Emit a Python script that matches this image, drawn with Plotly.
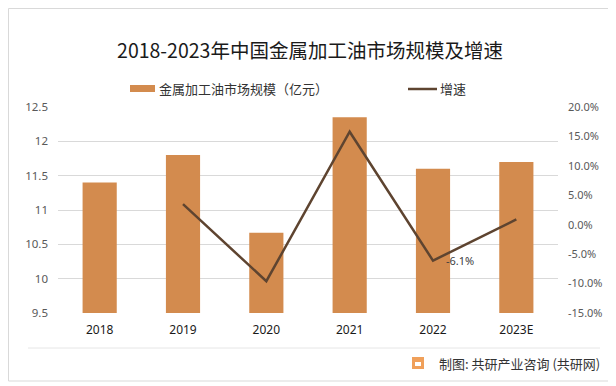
import plotly.graph_objects as go

years = ["2018", "2019", "2020", "2021", "2022", "2023E"]
market_size = [11.4, 11.8, 10.67, 12.35, 11.6, 11.7]
growth = [None, 3.5, -9.6, 15.8, -6.1, 0.9]
label_year = "2022"
label_value = -6.1
left_ticks = [9.5, 10, 10.5, 11, 11.5, 12, 12.5]
left_ticktext = ["9.5", "10", "10.5", "11", "11.5", "12", "12.5"]
right_ticks = [-15, -10, -5, 0, 5, 10, 15, 20]
right_ticktext = ["-15.0%", "-10.0%", "-5.0%", "0.0%", "5.0%", "10.0%", "15.0%", "20.0%"]
bar_name = "金属加工油市场规模（亿元）"
line_name = "增速"

font_cjk = "Noto Sans CJK SC"
font_num = "Noto Sans, Noto Sans CJK SC"
bar_color = "#D38B4E"
line_color = "#5E4430"

# page body margin offset (8px) compensation; coordinates below are in screen px
O = 8
W, H = 616 - O, 386 - O
L, R, T, B = 58, 558, 107, 313
PW, PH = R - L, B - T


def px(x):
    return (x - L) / PW


def py(y):
    return (B - y) / PH


fig = go.Figure()
fig.add_trace(go.Bar(
    x=years, y=market_size, name=bar_name,
    marker=dict(color=bar_color, line=dict(width=0)),
    width=0.41, yaxis="y", hoverinfo="x+y", showlegend=False,
))
fig.add_trace(go.Scatter(
    x=years, y=growth, name=line_name, yaxis="y2", mode="lines",
    line=dict(color=line_color, width=2.5), showlegend=False,
))

fig.update_layout(
    width=W, height=H,
    margin=dict(l=L - O, r=W - (R - O), t=T - O, b=H - (B - O), autoexpand=False),
    paper_bgcolor="white", plot_bgcolor="white",
    title=dict(text="2018-2023年中国金属加工油市场规模及增速", x=(310 - O) / W, xanchor="center",
               y=1 - (51 - O) / H, yanchor="middle",
               font=dict(family=font_cjk, size=19.5, color="#1a1a1a")),
    showlegend=False,
    xaxis=dict(type="category", range=[-0.5, len(years) - 0.5], showgrid=False,
               showline=False, ticks="", ticklabelstandoff=8,
               tickfont=dict(family=font_num, size=12, color="#1a1a1a")),
    yaxis=dict(range=[9.5, 12.5], tickvals=left_ticks, ticktext=left_ticktext,
               showgrid=True, gridcolor="#D9D9D9", gridwidth=1, zeroline=False,
               showline=False, ticks="", ticklabelstandoff=9,
               tickfont=dict(family=font_num, size=11.5, color="#595959")),
    yaxis2=dict(range=[-15, 20], tickvals=right_ticks, ticktext=right_ticktext,
                overlaying="y", side="right", showgrid=False, zeroline=False,
                showline=False, ticks="", ticklabelstandoff=9,
                tickfont=dict(family=font_num, size=11, color="#595959")),
    shapes=[
        dict(type="rect", xref="paper", yref="paper",
             x0=px(O + 0.5), x1=px(612), y0=py(381), y1=py(O + 0.5),
             line=dict(color="#D9D9D9", width=1), fillcolor="rgba(0,0,0,0)", layer="below"),
        dict(type="line", xref="paper", yref="paper",
             x0=px(28), x1=px(600), y0=py(348), y1=py(348),
             line=dict(color="#E6E6E6", width=1)),
        # legend swatches
        dict(type="rect", xref="paper", yref="paper",
             x0=px(130), x1=px(155), y0=py(92), y1=py(85),
             line=dict(width=0), fillcolor=bar_color),
        dict(type="line", xref="paper", yref="paper",
             x0=px(408), x1=px(437), y0=py(89), y1=py(89),
             line=dict(color=line_color, width=2.5)),
        # footer logo
        dict(type="rect", xref="paper", yref="paper",
             x0=px(412), x1=px(424), y0=py(369), y1=py(357),
             line=dict(width=0), fillcolor="#F0A05A"),
        dict(type="rect", xref="paper", yref="paper",
             x0=px(415), x1=px(421), y0=py(366), y1=py(362),
             line=dict(width=0), fillcolor="white"),
    ],
    annotations=[
        dict(text=bar_name, xref="paper", yref="paper", x=px(157), y=py(88.5),
             xanchor="left", yanchor="middle", showarrow=False,
             font=dict(family=font_cjk, size=13, color="#333333")),
        dict(text=line_name, xref="paper", yref="paper", x=px(438), y=py(88.5),
             xanchor="left", yanchor="middle", showarrow=False,
             font=dict(family=font_cjk, size=13, color="#333333")),
        dict(text=f"{label_value:.1f}%", x=years.index(label_year), y=label_value,
             xref="x", yref="y2", xanchor="left", yanchor="middle", xshift=11,
             showarrow=False, font=dict(family=font_num, size=11, color="#404040")),
        dict(text="制图: 共研产业咨询 (共研网)", xref="paper", yref="paper",
             x=px(602), y=py(363), xanchor="right", yanchor="middle",
             showarrow=False, font=dict(family=font_cjk, size=13, color="#333333")),
    ],
)

fig.write_html("out.html")
